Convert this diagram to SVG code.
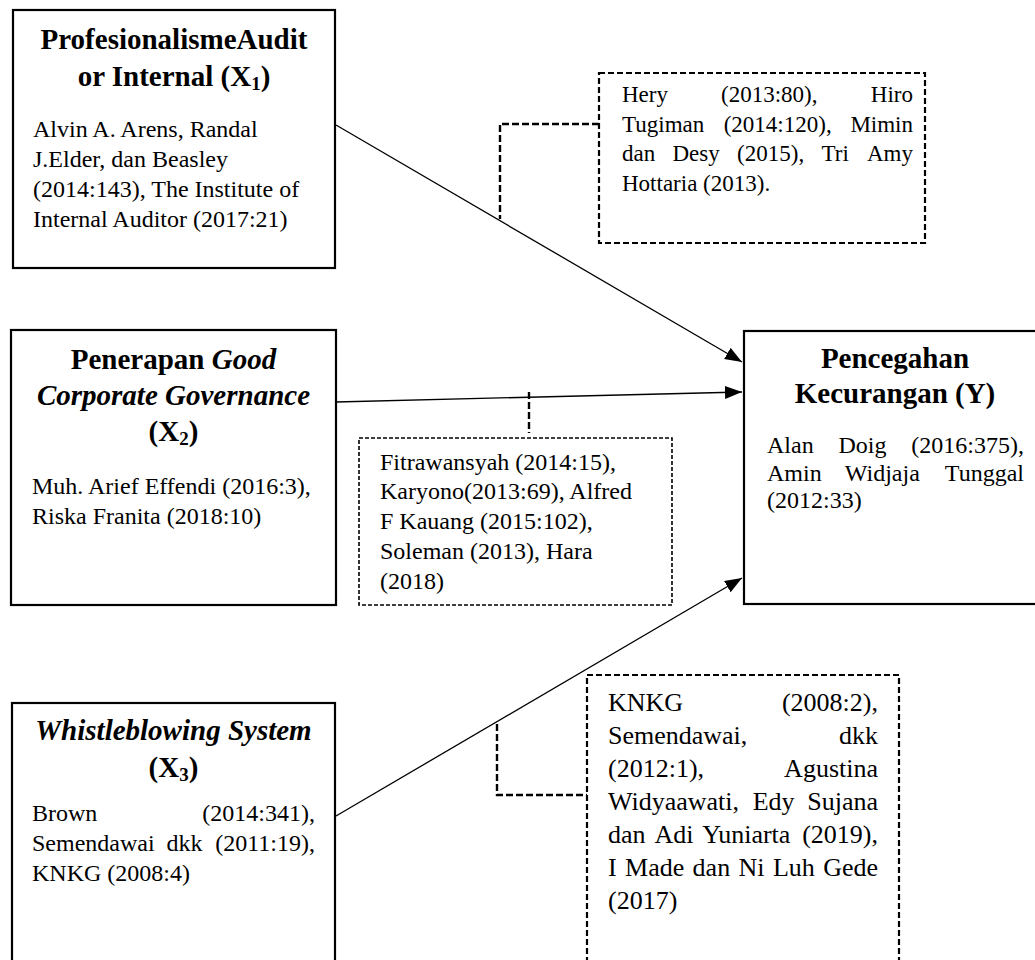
<svg xmlns="http://www.w3.org/2000/svg" width="1035" height="960" viewBox="0 0 1035 960">
<style>
text{font-family:"Liberation Serif","Times New Roman",serif;fill:#000}
.t{font-size:29px;font-weight:bold;text-anchor:middle}
.b{font-size:24px}
.bt{font-size:23px}
.bb{font-size:26px}
.e{text-anchor:end}
.box{fill:#fff;stroke:#000;stroke-width:2.2}
.dbox{fill:#fff;stroke:#000;stroke-width:2.2;stroke-dasharray:6 3}
.dbox2{fill:#fff;stroke:#000;stroke-width:1.6;stroke-dasharray:4 2}
.arr{stroke:#000;stroke-width:1.3;fill:none;marker-end:url(#ah)}
.dl{stroke:#000;stroke-width:2.4;fill:none;stroke-dasharray:7 3}
</style>
<defs>
<marker id="ah" markerUnits="userSpaceOnUse" markerWidth="18" markerHeight="14" refX="17" refY="6.5" orient="auto">
<path d="M0,0 L17,6.5 L0,13 Z" fill="#000"/>
</marker>
</defs>
<rect width="1035" height="960" fill="#fff"/>

<g id="connectors">
<line class="arr" x1="336" y1="125" x2="742" y2="362"/>
<line class="arr" x1="336" y1="402" x2="742" y2="392"/>
<line class="arr" x1="336" y1="816" x2="742" y2="578"/>
<polyline class="dl" points="599,124 500,124 500,219"/>
<line class="dl" x1="529" y1="392" x2="529" y2="433"/>
<polyline class="dl" points="497,724 497,795 587,795"/>
</g>

<g id="x1">
<rect class="box" x="13" y="10" width="322" height="258"/>
<text class="t" x="174" y="49">ProfesionalismeAudit</text>
<text class="t" x="174" y="86">or Internal (X<tspan font-size="19" dy="4">1</tspan><tspan dy="-4">)</tspan></text>
<text class="b" x="33" y="137">Alvin A. Arens, Randal</text>
<text class="b" x="33" y="167">J.Elder, dan Beasley</text>
<text class="b" x="33" y="197">(2014:143), The Institute of</text>
<text class="b" x="33" y="227">Internal Auditor (2017:21)</text>
</g>

<g id="ref1">
<rect class="dbox" x="599" y="73" width="326" height="170"/>
<text class="bt" y="102"><tspan x="622">Hery</tspan><tspan x="721">(2013:80),</tspan><tspan x="913" text-anchor="end">Hiro</tspan></text>
<text class="bt" y="132"><tspan x="622">Tugiman</tspan><tspan x="723.7">(2014:120),</tspan><tspan x="913" text-anchor="end">Mimin</tspan></text>
<text class="bt" y="161"><tspan x="622">dan</tspan><tspan x="672.5">Desy</tspan><tspan x="737.1">(2015),</tspan><tspan x="821.5">Tri</tspan><tspan x="913" text-anchor="end">Amy</tspan></text>
<text class="bt" x="622" y="191">Hottaria (2013).</text>
</g>

<g id="x2">
<rect class="box" x="11" y="330" width="325" height="275"/>
<text class="t" x="173.5" y="369">Penerapan <tspan font-style="italic">Good</tspan></text>
<text class="t" x="173.5" y="405" font-style="italic">Corporate Governance</text>
<text class="t" x="173.5" y="441">(X<tspan font-size="19" dy="4">2</tspan><tspan dy="-4">)</tspan></text>
<text class="b" x="32" y="494">Muh. Arief Effendi (2016:3),</text>
<text class="b" x="32" y="524">Riska Franita (2018:10)</text>
</g>

<g id="ref2">
<rect class="dbox2" x="359" y="438" width="313" height="167"/>
<text class="b" x="380" y="470">Fitrawansyah (2014:15),</text>
<text class="b" x="380" y="499">Karyono(2013:69), Alfred</text>
<text class="b" x="380" y="529">F Kauang (2015:102),</text>
<text class="b" x="380" y="559">Soleman (2013), Hara</text>
<text class="b" x="380" y="589">(2018)</text>
</g>

<g id="y">
<rect class="box" x="744" y="331" width="302" height="273"/>
<text class="t" x="895" y="368">Pencegahan</text>
<text class="t" x="895" y="403">Kecurangan (Y)</text>
<text class="b" y="453"><tspan x="767">Alan</tspan><tspan x="838.5">Doig</tspan><tspan x="1024" text-anchor="end">(2016:375),</tspan></text>
<text class="b" y="481"><tspan x="767">Amin</tspan><tspan x="844.8">Widjaja</tspan><tspan x="1024" text-anchor="end">Tunggal</tspan></text>
<text class="b" x="767" y="508">(2012:33)</text>
</g>

<g id="x3">
<rect class="box" x="12" y="703" width="323" height="300"/>
<text class="t" x="173.5" y="740" font-style="italic">Whistleblowing System</text>
<text class="t" x="173.5" y="777">(X<tspan font-size="19" dy="4">3</tspan><tspan dy="-4">)</tspan></text>
<text class="b" y="821"><tspan x="32">Brown</tspan><tspan x="315" text-anchor="end">(2014:341),</tspan></text>
<text class="b" y="851"><tspan x="32">Semendawai</tspan><tspan x="166.5">dkk</tspan><tspan x="315" text-anchor="end">(2011:19),</tspan></text>
<text class="b" x="32" y="881">KNKG (2008:4)</text>
</g>

<g id="ref3">
<rect class="dbox" x="587" y="675" width="312" height="300"/>
<text class="bb" y="711"><tspan x="608">KNKG</tspan><tspan x="878" text-anchor="end">(2008:2),</tspan></text>
<text class="bb" y="744"><tspan x="608">Semendawai,</tspan><tspan x="878" text-anchor="end">dkk</tspan></text>
<text class="bb" y="777"><tspan x="608">(2012:1),</tspan><tspan x="878" text-anchor="end">Agustina</tspan></text>
<text class="bb" y="810"><tspan x="608">Widyaawati,</tspan><tspan x="752.7">Edy</tspan><tspan x="878" text-anchor="end">Sujana</tspan></text>
<text class="bb" y="843"><tspan x="608">dan</tspan><tspan x="654.4">Adi</tspan><tspan x="702.3">Yuniarta</tspan><tspan x="878" text-anchor="end">(2019),</tspan></text>
<text class="bb" y="876"><tspan x="608">I</tspan><tspan x="625.1">Made</tspan><tspan x="692.6">dan</tspan><tspan x="738.5">Ni</tspan><tspan x="772.9">Luh</tspan><tspan x="878" text-anchor="end">Gede</tspan></text>
<text class="bb" x="608" y="909">(2017)</text>
</g>
</svg>
